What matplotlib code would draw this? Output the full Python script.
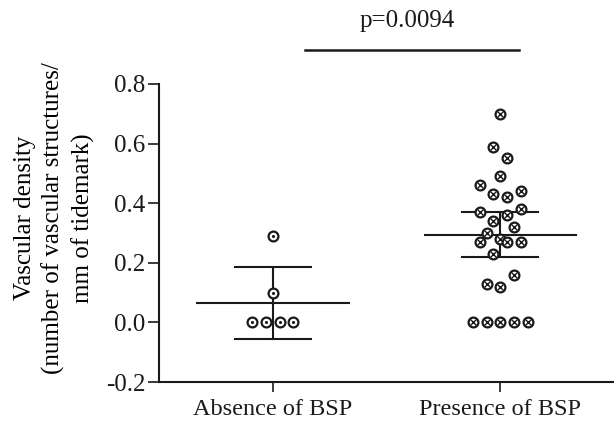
import numpy as np
import matplotlib
matplotlib.use('Agg')
import matplotlib.pyplot as plt

plt.rcParams['font.family'] = ['Liberation Serif', 'DejaVu Serif']

groups = ['Absence of BSP', 'Presence of BSP']

# vascular density per sample
absence = [0.29, 0.10, 0.0, 0.0, 0.0, 0.0]
presence = [0.70, 0.59, 0.55, 0.49, 0.46, 0.43, 0.42, 0.44, 0.37, 0.36, 0.38,
            0.34, 0.32, 0.30, 0.27, 0.28, 0.27, 0.27, 0.23, 0.16, 0.13, 0.12,
            0.0, 0.0, 0.0, 0.0, 0.0]

# horizontal spread of the dots, in dot widths
absence_spread = [0, 0, -1.5, -0.5, 0.5, 1.5]
presence_spread = [0, -0.5, 0.5, 0, -1.5, -0.5, 0.5, 1.5, -1.5, 0.5, 1.5,
                   -0.5, 1, -1, -1.5, 0, 0.5, 1.5, -0.5, 1, -1, 0,
                   -2, -1, 0, 1, 2]

# mean and 95% CI as drawn
means = [0.066, 0.293]
ci_low = [-0.055, 0.218]
ci_high = [0.187, 0.372]

p_text = 'p=0.0094'
yticks = [-0.2, 0.0, 0.2, 0.4, 0.6, 0.8]

ink = '#1a1a1a'
fs = 18
fig = plt.figure(figsize=(6.14, 4.21), dpi=100)
ax = fig.add_axes([0.259, 0.0926, 0.741, 0.708])

step = 0.06
for i, (vals, spread) in enumerate([(absence, absence_spread), (presence, presence_spread)]):
    xc = i + 1
    xs = xc + np.array(spread) * step
    ax.scatter(xs, vals, s=50, facecolor='white', edgecolor=ink, linewidth=1.6, zorder=3)
    if i == 0:
        ax.scatter(xs, vals, s=5, color=ink, marker='o', linewidth=0, zorder=4)
    else:
        ax.scatter(xs, vals, s=16, color=ink, marker='x', linewidth=1.0, zorder=4)
    ax.plot([xc - 0.333, xc + 0.333], [means[i], means[i]], color=ink, lw=1.5, zorder=2)
    ax.plot([xc, xc], [ci_low[i], ci_high[i]], color=ink, lw=1.5, zorder=2)
    for yy in (ci_low[i], ci_high[i]):
        ax.plot([xc - 0.167, xc + 0.167], [yy, yy], color=ink, lw=1.5, zorder=2)

# significance bar
ax.plot([1.143, 2.082], [0.915, 0.915], color=ink, lw=1.8, clip_on=False)
ax.text(1.59, 1.01, p_text, ha='center', va='center', fontsize=fs, color=ink)

ax.set_xlim(0.5, 2.5)
ax.set_ylim(-0.2, 0.8)
ax.set_xticks([1, 2])
ax.set_xticklabels(groups, fontsize=17.5)
ax.set_yticks(yticks)
ax.set_yticklabels(['%.1f' % t for t in yticks], fontsize=fs)
ax.set_ylabel('Vascular density\n(number of vascular structures/\nmm of tidemark)',
              fontsize=fs, linespacing=1.32, labelpad=8)
ax.yaxis.label.set_y(0.55)
for s in ['top', 'right']:
    ax.spines[s].set_visible(False)
for s in ['left', 'bottom']:
    ax.spines[s].set_linewidth(1.5)
    ax.spines[s].set_color(ink)
ax.tick_params(axis='both', width=1.2, length=7, color=ink, labelcolor=ink)
ax.tick_params(axis='y', length=8, pad=2)
ax.tick_params(axis='x', pad=5)

fig.savefig('out.png', dpi=100)
